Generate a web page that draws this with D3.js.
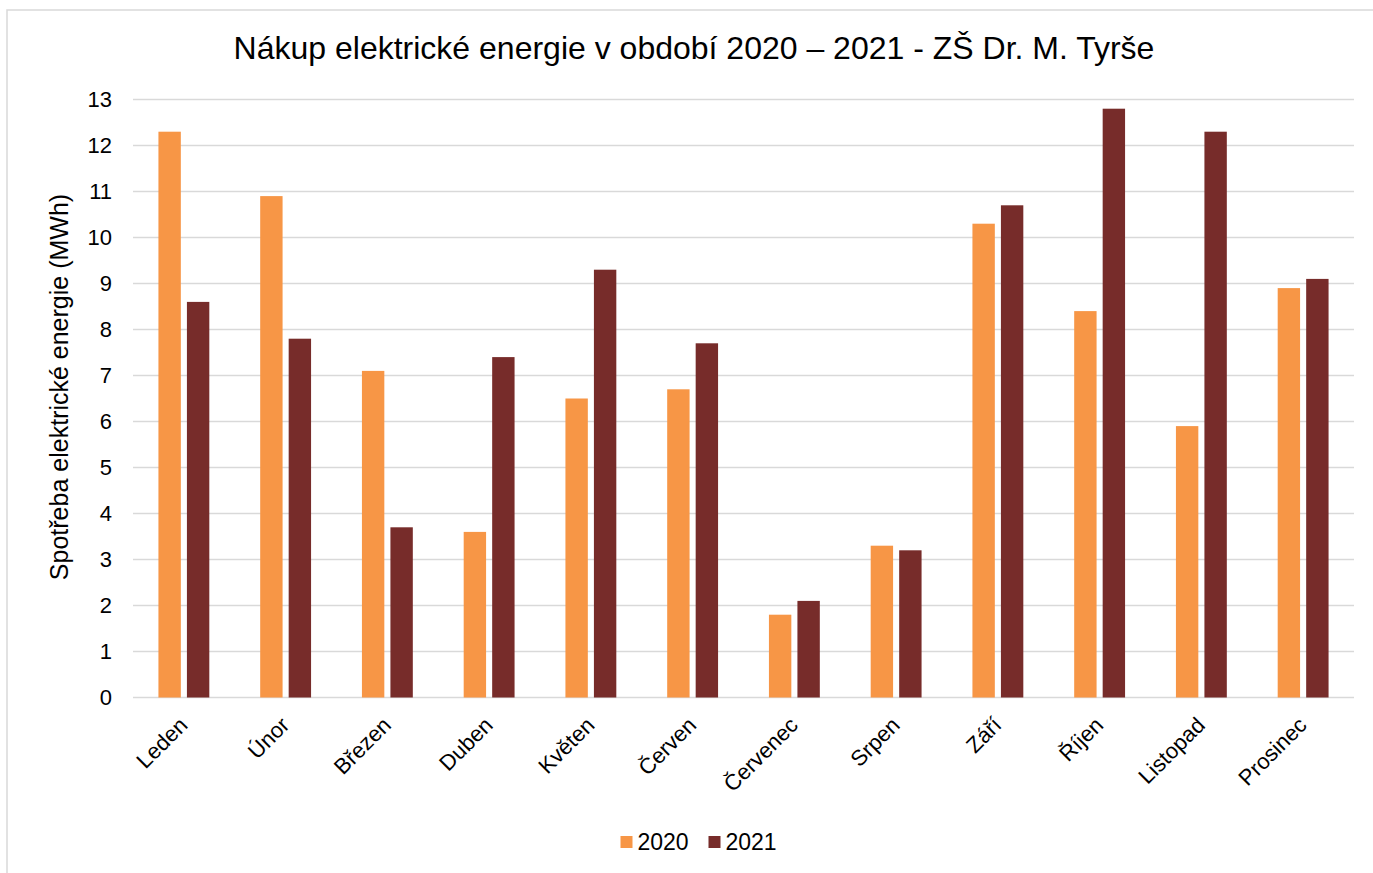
<!DOCTYPE html>
<html>
<head>
<meta charset="utf-8">
<script src="https://cdn.jsdelivr.net/npm/d3@7"></script>
<style>
  html, body { margin: 0; padding: 0; background: #fff; }
  svg { display: block; font-family: "Liberation Sans", Arial, sans-serif; }
</style>
</head>
<body>
<svg id="chart" width="1373" height="873"></svg>
<script>
// Monthly electricity purchase, MWh
const months = ["Leden", "Únor", "Březen", "Duben", "Květen", "Červen",
                "Červenec", "Srpen", "Září", "Říjen", "Listopad", "Prosinec"];
const series = ["2020", "2021"];
const values2020 = [12.3, 10.9, 7.1, 3.6, 6.5, 6.7, 1.8, 3.3, 10.3, 8.4, 5.9, 8.9];
const values2021 = [8.6, 7.8, 3.7, 7.4, 9.3, 7.7, 2.1, 3.2, 10.7, 12.8, 12.3, 9.1];
const yTicks = [0, 1, 2, 3, 4, 5, 6, 7, 8, 9, 10, 11, 12, 13];
const colors = { "2020": "#F79646", "2021": "#772C2A" };

const title = "Nákup elektrické energie v období 2020 – 2021 - ZŠ Dr. M. Tyrše";
const yTitle = "Spotřeba elektrické energie (MWh)";

const svg = d3.select("#chart");
const plot = { left: 133, right: 1354, top: 99.5, bottom: 697.5 };

// chart frame
svg.append("rect")
  .attr("x", 7).attr("y", 10)
  .attr("width", 1380).attr("height", 880)
  .attr("fill", "#fff")
  .attr("stroke", "#d9d9d9").attr("stroke-width", 1.5);

const x = d3.scaleBand().domain(months).range([plot.left, plot.right]).padding(0);
const bw = x.bandwidth();
const xs = d3.scaleBand().domain(series)
  .range([bw * 0.25, bw * 0.75]).paddingInner(0.214).paddingOuter(0);
const y = d3.scaleLinear().domain([0, 13]).range([plot.bottom, plot.top]);

// horizontal gridlines
svg.append("g").selectAll("line").data(yTicks).join("line")
  .attr("x1", plot.left).attr("x2", plot.right)
  .attr("y1", d => y(d)).attr("y2", d => y(d))
  .attr("stroke", "#d9d9d9").attr("stroke-width", 1.6);

// y axis labels
const yAxis = d3.axisLeft(y).tickValues(yTicks).tickSize(0).tickPadding(21);
const yg = svg.append("g").attr("transform", `translate(${plot.left},0)`).call(yAxis);
yg.select(".domain").remove();
yg.selectAll("text")
  .attr("font-size", 22).attr("fill", "#000")
  .attr("font-family", "Liberation Sans, Arial, sans-serif");

// bars
const rows = months.map((m, i) => ({ month: m, "2020": values2020[i], "2021": values2021[i] }));
const groups = svg.append("g").selectAll("g").data(rows).join("g")
  .attr("transform", d => `translate(${x(d.month)},0)`);
groups.selectAll("rect")
  .data(d => series.map(s => ({ key: s, value: d[s] })))
  .join("rect")
  .attr("x", d => xs(d.key))
  .attr("width", xs.bandwidth())
  .attr("y", d => y(d.value))
  .attr("height", d => y(0) - y(d.value))
  .attr("fill", d => colors[d.key]);

// x axis labels, rotated
const xAxis = d3.axisBottom(x).tickSize(0).tickPadding(0);
const xg = svg.append("g").attr("transform", `translate(0,${plot.bottom})`).call(xAxis);
xg.select(".domain").remove();
xg.selectAll("text")
  .attr("font-size", 22).attr("fill", "#000")
  .attr("font-family", "Liberation Sans, Arial, sans-serif")
  .attr("text-anchor", "end")
  .attr("dy", null).attr("y", 0)
  .attr("transform", "translate(5,29) rotate(-45)");

// title
svg.append("text")
  .attr("x", 694).attr("y", 59)
  .attr("text-anchor", "middle")
  .attr("font-size", 32).attr("fill", "#000")
  .text(title);

// y axis title
svg.append("text")
  .attr("transform", `translate(68,387) rotate(-90)`)
  .attr("text-anchor", "middle")
  .attr("font-size", 25).attr("fill", "#000")
  .text(yTitle);

// legend
const legend = svg.append("g").attr("transform", "translate(620.5,836)");
const legendX = { "2020": 0, "2021": 88 };
series.forEach(s => {
  const g = legend.append("g").attr("transform", `translate(${legendX[s]},0)`);
  g.append("rect").attr("width", 12).attr("height", 12).attr("fill", colors[s]);
  g.append("text").attr("x", 17).attr("y", 13.5)
    .attr("font-size", 23).attr("fill", "#000").text(s);
});
</script>
</body>
</html>
